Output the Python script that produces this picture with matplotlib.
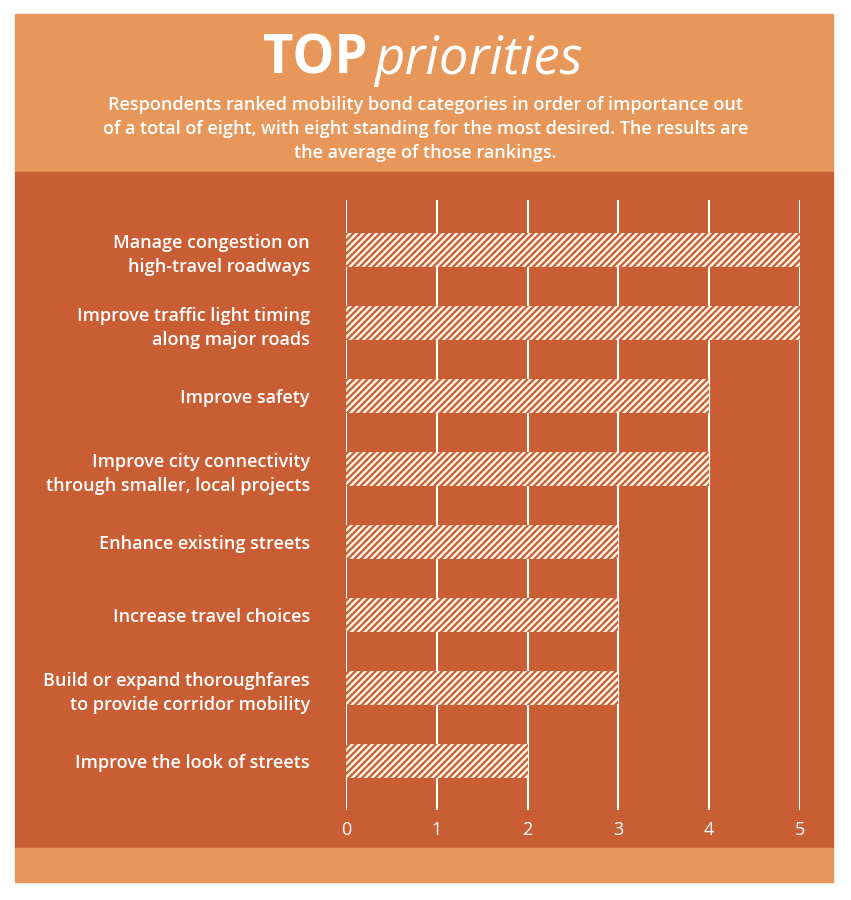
import matplotlib.pyplot as plt
from matplotlib.patches import Rectangle

categories = [
    "Manage congestion on\nhigh-travel roadways",
    "Improve traffic light timing\nalong major roads",
    "Improve safety",
    "Improve city connectivity\nthrough smaller, local projects",
    "Enhance existing streets",
    "Increase travel choices",
    "Build or expand thoroughfares\nto provide corridor mobility",
    "Improve the look of streets",
]
scores = [5, 5, 4, 4, 3, 3, 3, 2]
ticks = [0, 1, 2, 3, 4, 5]

W, H = 851, 900
light = "#e8975b"
dark = "#c95e35"
cream = "#fdf3e4"
plt.rcParams["font.family"] = ["Open Sans", "DejaVu Sans"]
plt.rcParams["hatch.linewidth"] = 1.6

fig = plt.figure(figsize=(W / 100, H / 100), dpi=100)
fig.patch.set_facecolor("white")


def box(x0, y0, x1, y1, color):
    fig.patches.append(Rectangle((x0 / W, 1 - y1 / H), (x1 - x0) / W, (y1 - y0) / H,
                                 transform=fig.transFigure, color=color, zorder=-5))


box(15, 14, 833, 172, light)
box(15, 172, 833, 848, dark)
box(15, 848, 833, 882, light)

fig.text(368 / W, 1 - 60 / H, "TOP", ha="right", va="center", fontsize=38,
         fontweight="bold", color="white")
fig.text(374 / W, 1 - 60 / H, "priorities", ha="left", va="center", fontsize=38,
         style="italic", color="white")
fig.text(0.5, 1 - 129 / H,
         "Respondents ranked mobility bond categories in order of importance out\n"
         "of a total of eight, with eight standing for the most desired. The results are\n"
         "the average of those rankings.",
         ha="center", va="center", fontsize=13, color="white", linespacing=1.45,
         fontweight="semibold")

ax = fig.add_axes([346 / W, 0.1, 454 / W, 610 / H])
ax.set_facecolor("none")
y = list(range(len(categories)))
ax.barh(y, scores, height=0.47, color=cream, edgecolor=dark, hatch="/////",
        linewidth=0, zorder=3)
for t in ticks:
    ax.axvline(t, color="white", lw=1.5, zorder=2)
ax.set_xlim(0, 5)
ax.set_ylim(7.67, -0.685)
ax.set_xticks(ticks)
ax.set_yticks(y)
ax.set_yticklabels(categories, fontsize=13, color="white", linespacing=1.4,
                   fontweight="semibold")
ax.tick_params(length=0, pad=26, axis="y")
ax.tick_params(length=0, pad=8, axis="x", labelsize=13, labelcolor="white")
for s in ax.spines.values():
    s.set_visible(False)

fig.savefig("out.png", dpi=100)
